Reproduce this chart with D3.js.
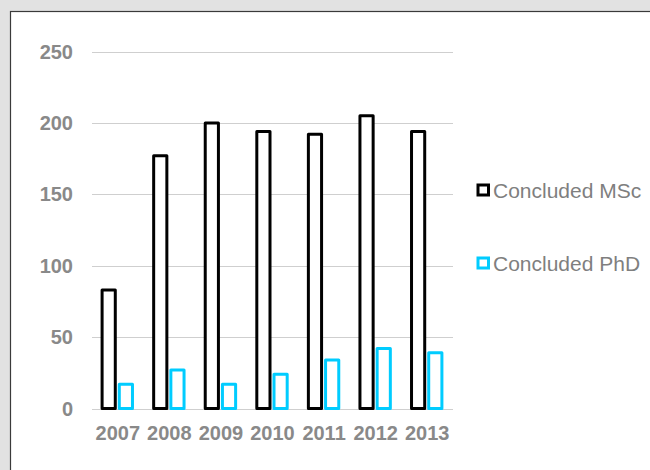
<!DOCTYPE html>
<meta charset="utf-8">
<style>
body { margin: 0; background: #e2e2e2; }
svg { display: block; }
.grid line { stroke: #cfcfcf; stroke-width: 1; }
.axis text { font-family: "Liberation Sans", Arial, sans-serif; font-size: 20px; font-weight: bold; fill: #898989; }
.legend text { font-family: "Liberation Sans", Arial, sans-serif; font-size: 21px; fill: #7f7f7f; }
</style>
<svg width="650" height="470"></svg>
<script src="https://d3js.org/d3.v7.min.js"></script>
<script>

var years = ["2007", "2008", "2009", "2010", "2011", "2012", "2013"];
var mscValues = [83, 177, 200, 194, 192, 205, 194];
var phdValues = [17, 27, 17, 24, 34, 42, 39];
var yTicks = [0, 50, 100, 150, 200, 250];
var seriesNames = ["Concluded MSc", "Concluded PhD"];
var seriesColors = ["#000000", "#00ccff"];

var svg = d3.select("svg");

// white panel
svg.append("rect")
    .attr("x", 10.5).attr("y", 11.5)
    .attr("width", 700).attr("height", 500)
    .attr("fill", "#fff")
    .attr("stroke", "#3a3a3a")
    .attr("stroke-width", 1.2);

var x = d3.scaleBand().domain(years).range([92, 453]);
var sub = d3.scaleBand().domain(seriesNames)
    .range([x.bandwidth() / 6, x.bandwidth() * 5 / 6]);
var y = d3.scaleLinear().domain([0, 250]).range([408.5, 51.5]);

// gridlines
svg.append("g").attr("class", "grid")
  .selectAll("line")
  .data(yTicks).enter()
  .append("line")
    .attr("x1", 92).attr("x2", 453)
    .attr("y1", function(d) { return Math.round(y(d)) + 0.5; })
    .attr("y2", function(d) { return Math.round(y(d)) + 0.5; });

// y labels
svg.append("g").attr("class", "axis")
  .selectAll("text")
  .data(yTicks).enter()
  .append("text")
    .attr("x", 73)
    .attr("y", function(d) { return y(d); })
    .attr("dy", "0.35em")
    .attr("text-anchor", "end")
    .text(function(d) { return d; });

// x labels
svg.append("g").attr("class", "axis")
  .selectAll("text")
  .data(years).enter()
  .append("text")
    .attr("x", function(d) { return x(d) + x.bandwidth() / 2; })
    .attr("y", 440)
    .attr("text-anchor", "middle")
    .text(function(d) { return d; });

// bars
var rows = [];
years.forEach(function(yr, i) {
  rows.push({ year: yr, s: 0, v: mscValues[i] });
  rows.push({ year: yr, s: 1, v: phdValues[i] });
});

svg.append("g")
  .selectAll("rect")
  .data(rows).enter()
  .append("rect")
    .attr("x", function(d) { return x(d.year) + sub(seriesNames[d.s]) + 1.5; })
    .attr("width", sub.bandwidth() - 4)
    .attr("y", function(d) { return y(d.v); })
    .attr("height", function(d) { return y(0) - y(d.v); })
    .attr("fill", "#fff")
    .attr("stroke", function(d) { return seriesColors[d.s]; })
    .attr("stroke-width", 3)
    .attr("stroke-linejoin", "round");

// legend
var legendY = [190, 263];
var legend = svg.append("g").attr("class", "legend")
  .selectAll("g")
  .data(seriesNames).enter()
  .append("g")
    .attr("transform", function(d, i) { return "translate(0," + legendY[i] + ")"; });

legend.append("rect")
    .attr("x", 478).attr("y", -5)
    .attr("width", 10.5).attr("height", 10)
    .attr("fill", "#fff")
    .attr("stroke", function(d, i) { return seriesColors[i]; })
    .attr("stroke-width", 3);

legend.append("text")
    .attr("x", 493).attr("y", 7.5)
    .text(function(d) { return d; });

</script>
